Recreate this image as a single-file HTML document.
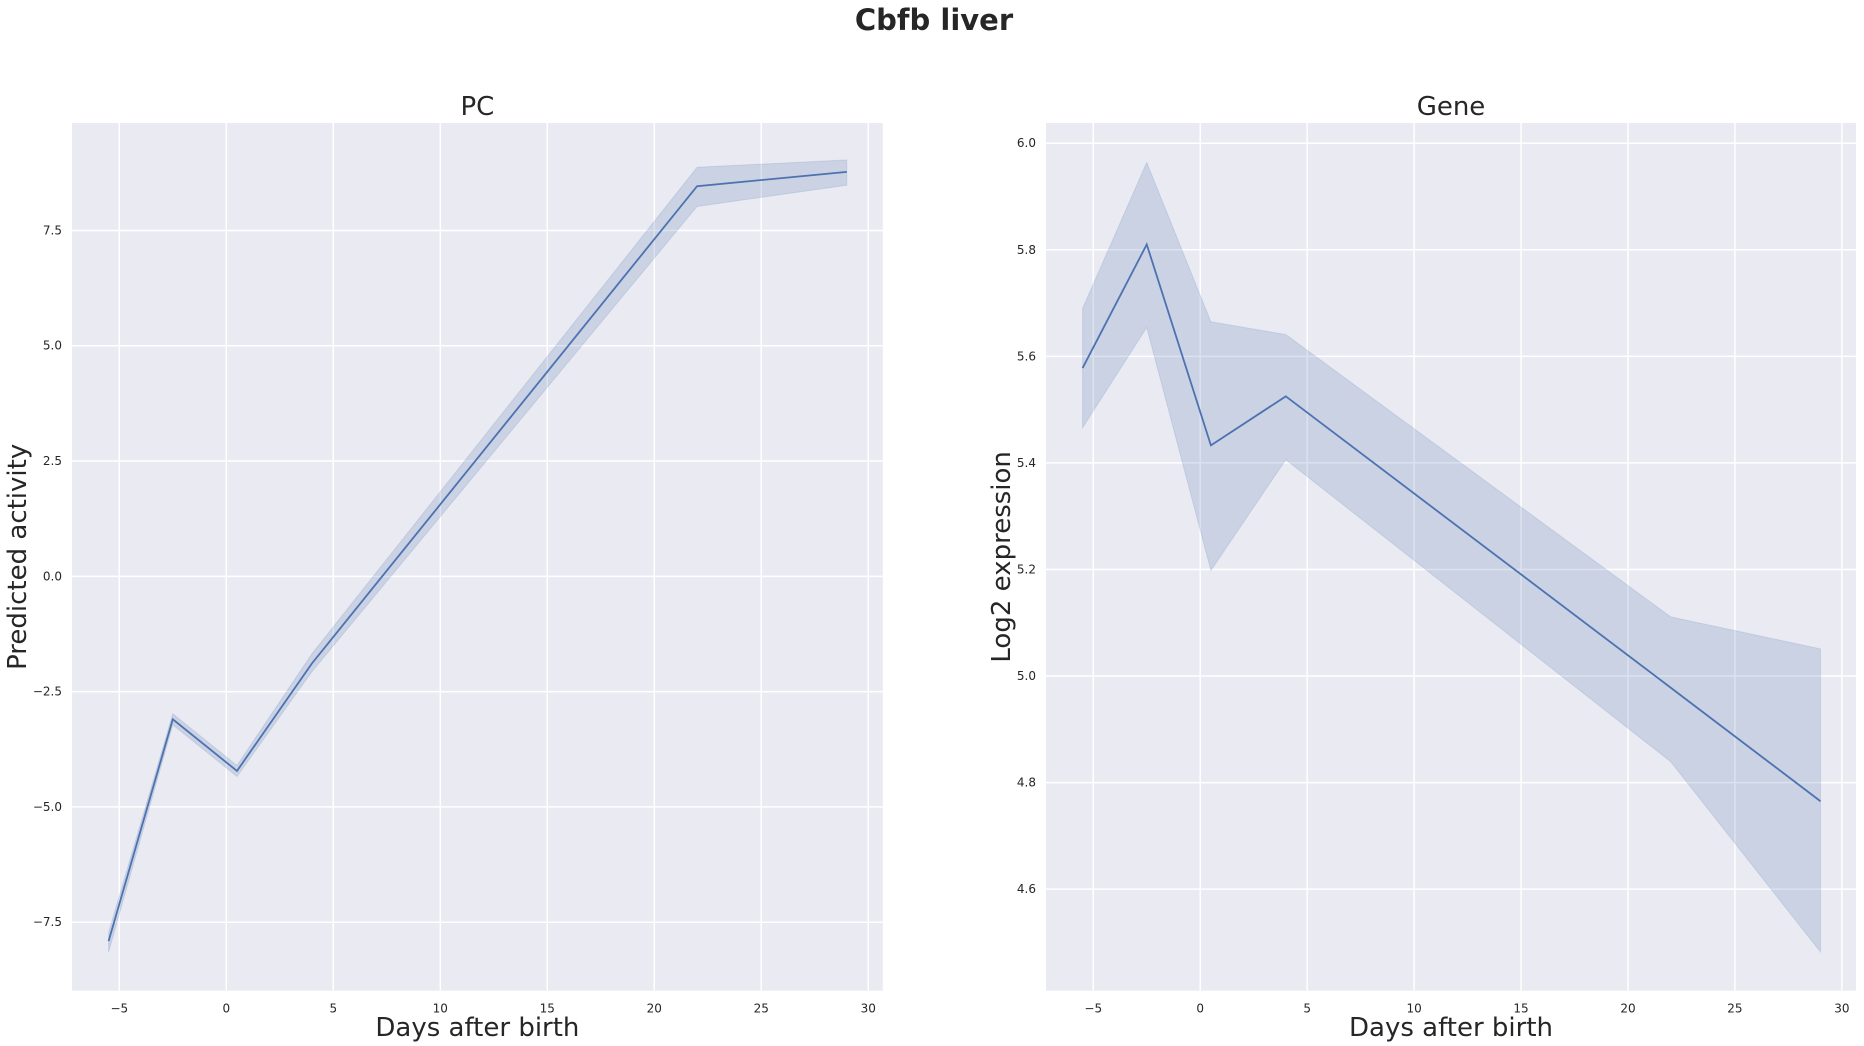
<!DOCTYPE html>
<html><head><meta charset="utf-8"><style>
html,body{margin:0;padding:0;background:#fff;}
svg{display:block;font-family:"DejaVu Sans","Liberation Sans",sans-serif;}
</style></head><body>
<svg id="fig" width="1864" height="1046" viewBox="0 0 1864 1046">
<text x="934" y="30" text-anchor="middle" font-size="29" font-weight="bold" fill="#262626">Cbfb liver</text>
<g id="ax1"></g>
<g id="ax2"></g>
</svg>
<script>
const days = [-5.5, -2.5, 0.5, 4, 22, 29];
const pcMean = [-7.91, -3.10, -4.22, -1.89, 8.46, 8.77];
const pcUpper = [-7.72, -2.98, -4.10, -1.68, 8.87, 9.03];
const pcLower = [-8.15, -3.22, -4.34, -2.07, 8.02, 8.48];
const geneMean = [5.578, 5.81, 5.433, 5.525, 4.978, 4.765];
const geneUpper = [5.69, 5.964, 5.665, 5.641, 5.111, 5.051];
const geneLower = [5.466, 5.654, 5.198, 5.406, 4.839, 4.482];
const xTicks = [-5, 0, 5, 10, 15, 20, 25, 30];
const pcYTicks = [-7.5, -5.0, -2.5, 0.0, 2.5, 5.0, 7.5];
const geneYTicks = [4.6, 4.8, 5.0, 5.2, 5.4, 5.6, 5.8, 6.0];

const NS = 'http://www.w3.org/2000/svg';
function mk(parent, tag, attrs, text) {
  const e = document.createElementNS(NS, tag);
  for (const k in attrs) e.setAttribute(k, attrs[k]);
  if (text !== undefined) e.textContent = text;
  parent.appendChild(e);
  return e;
}
function fmt(v, d) { const s = v.toFixed(d); return v < 0 ? '\u2212' + s.slice(1) : s; }

function panel(g, box, xdom, ydom, yTicks, yDec, mean, up, lo, title, ylabel, key) {
  const sx = v => box.l + (v - xdom[0]) / (xdom[1] - xdom[0]) * (box.r - box.l);
  const sy = v => box.b - (v - ydom[0]) / (ydom[1] - ydom[0]) * (box.b - box.t);
  const bg = mk(g, 'rect', {x: box.l, y: box.t, width: box.r - box.l, height: box.b - box.t, fill: '#eaeaf2'});
  
  
  xTicks.forEach(t => {
    const x = sx(t);
    const l = mk(g, 'line', {x1: x, x2: x, y1: box.t, y2: box.b, stroke: '#fff', 'stroke-width': 1.5});
    
    
    const tx = mk(g, 'text', {x: x, y: box.b + 22, 'text-anchor': 'middle', 'font-size': 12, fill: '#262626'}, fmt(t, 0));
    
    
  });
  yTicks.forEach(t => {
    const y = sy(t);
    const l = mk(g, 'line', {x1: box.l, x2: box.r, y1: y, y2: y, stroke: '#fff', 'stroke-width': 1.5});
    
    
    const tx = mk(g, 'text', {x: box.l - 10, y: y + 4, 'text-anchor': 'end', 'font-size': 12, fill: '#262626'}, fmt(t, yDec));
    
    
  });
  let pts = days.map((d, i) => sx(d) + ',' + sy(up[i]));
  for (let i = days.length - 1; i >= 0; i--) pts.push(sx(days[i]) + ',' + sy(lo[i]));
  const band = mk(g, 'polygon', {points: pts.join(' '), fill: '#4c72b0', 'fill-opacity': 0.2, stroke: '#4c72b0', 'stroke-opacity': 0.15});
  
  
  const line = mk(g, 'polyline', {points: days.map((d, i) => sx(d) + ',' + sy(mean[i])).join(' '), fill: 'none', stroke: '#4c72b0', 'stroke-width': 1.8});
  
  
  const cx = (box.l + box.r) / 2;
  const tt = mk(g, 'text', {x: cx, y: 115, 'text-anchor': 'middle', 'font-size': 26, fill: '#262626'}, title);
  
  
  const xl = mk(g, 'text', {x: cx, y: 1036, 'text-anchor': 'middle', 'font-size': 26, fill: '#262626'}, 'Days after birth');
  
  
  const ycx = box.lab, ycy = (box.t + box.b) / 2;
  const yl = mk(g, 'text', {x: ycx, y: ycy, 'text-anchor': 'middle', 'font-size': 26, fill: '#262626', transform: 'rotate(-90 ' + ycx + ' ' + ycy + ')'}, ylabel);
  
  
}
panel(document.getElementById('ax1'), {l: 72, r: 882.8, t: 123, b: 990.7, lab: 26}, [-7.21, 30.68], [-8.985, 9.83], pcYTicks, 1, pcMean, pcUpper, pcLower, 'PC', 'Predicted activity', 'pc');
panel(document.getElementById('ax2'), {l: 1046, r: 1856, t: 123, b: 990.7, lab: 1010}, [-7.21, 30.66], [4.4094, 6.038], geneYTicks, 1, geneMean, geneUpper, geneLower, 'Gene', 'Log2 expression', 'gene');
</script>
</body></html>
